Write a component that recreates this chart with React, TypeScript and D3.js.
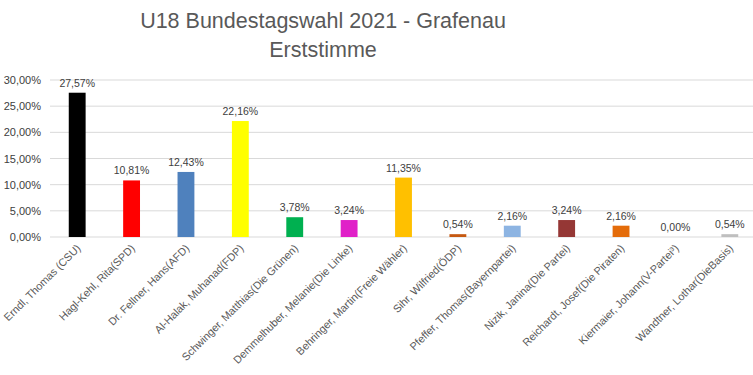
import React from "react";
import * as d3 from "d3";

const categories = [
  "Erndl, Thomas (CSU)",
  "Hagl-Kehl, Rita(SPD)",
  "Dr. Fellner, Hans(AFD)",
  "Al-Halak, Muhanad(FDP)",
  "Schwinger, Matthias(Die Grünen)",
  "Demmelhuber, Melanie(Die Linke)",
  "Behringer, Martin(Freie Wähler)",
  "Sihr, Wilfried(ÖDP)",
  "Pfeffer, Thomas(Bayernpartei)",
  "Nizik, Janina(Die Partei)",
  "Reichardt, Josef(Die Piraten)",
  "Kiermaier, Johann(V-Partei³)",
  "Wandtner, Lothar(DieBasis)",
];
const values = [27.57, 10.81, 12.43, 22.16, 3.78, 3.24, 11.35, 0.54, 2.16, 3.24, 2.16, 0.0, 0.54];
const colors = [
  "#000000", "#FF0000", "#4F81BD", "#FFFF00", "#00B050", "#E020C8", "#FFC000",
  "#C65911", "#8DB4E2", "#953735", "#E46C0A", "#A6A6A6", "#BFBFBF",
];
const yTicks = [0, 5, 10, 15, 20, 25, 30];
const titleLines = ["U18 Bundestagswahl 2021 - Grafenau", "Erststimme"];

const fmt = (v: number) => v.toFixed(2).replace(".", ",") + "%";

export default function App() {
  const W = 753, H = 375;
  const x = d3.scaleBand<string>().domain(categories).range([50, 757]).paddingInner(0.69).paddingOuter(0.345);
  const y = d3.scaleLinear().domain([0, 30]).range([237, 80]);
  const font = "'Liberation Sans', Arial, sans-serif";
  return (
    <svg width={W} height={H} style={{ position: "absolute", left: 0, top: 0, background: "#fff" }}>
      <rect width={W} height={H} fill="#fff" />
      {titleLines.map((t, i) => (
        <text key={t} x={323} y={28 + i * 29} textAnchor="middle" fontFamily={font} fontSize={21.5} fill="#595959">{t}</text>
      ))}
      {yTicks.map(t => (
        <g key={t}>
          <line x1={50} x2={757} y1={y(t)} y2={y(t)} stroke="#D9D9D9" strokeWidth={1} />
          <text x={41} y={y(t) + 4} textAnchor="end" fontFamily={font} fontSize={11} fill="#404040">{fmt(t)}</text>
        </g>
      ))}
      {categories.map((c, i) => {
        const bx = x(c)!;
        const bw = x.bandwidth();
        const cx = bx + bw / 2;
        return (
          <g key={c}>
            {values[i] > 0 && (
              <rect x={bx} y={y(values[i])} width={bw} height={y(0) - y(values[i])} fill={colors[i]} />
            )}
            <text x={cx} y={y(values[i]) - 6} textAnchor="middle" fontFamily={font} fontSize={10.5} fill="#404040">{fmt(values[i])}</text>
            <text transform={`translate(${cx + 4},${249}) rotate(-45)`} textAnchor="end" fontFamily={font} fontSize={10.8} fill="#595959">{c}</text>
          </g>
        );
      })}
    </svg>
  );
}
